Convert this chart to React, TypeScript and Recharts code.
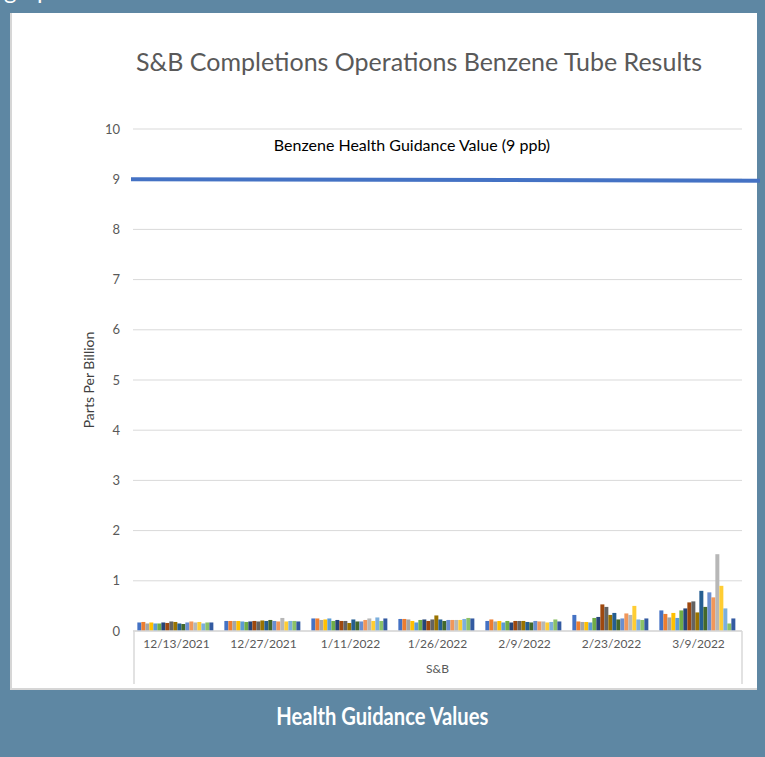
import React from "react";
import { BarChart, Bar, XAxis, YAxis, CartesianGrid, ReferenceLine } from "recharts";

// sampling dates (category axis) and the single outer group label
const dates = ["12/13/2021", "12/27/2021", "1/11/2022", "1/26/2022", "2/9/2022", "2/23/2022", "3/9/2022"];
const groupLabel = "S&B";

// 19 sampling tubes per date, in series order (ppb)
const dec13 = [0.17, 0.18, 0.15, 0.17, 0.15, 0.15, 0.17, 0.16, 0.19, 0.18, 0.15, 0.14, 0.17, 0.19, 0.17, 0.18, 0.15, 0.17, 0.17];
const dec27 = [0.2, 0.2, 0.2, 0.2, 0.19, 0.18, 0.19, 0.2, 0.19, 0.21, 0.2, 0.22, 0.2, 0.19, 0.26, 0.19, 0.2, 0.2, 0.19];
const jan11 = [0.25, 0.25, 0.22, 0.23, 0.25, 0.2, 0.22, 0.2, 0.2, 0.16, 0.23, 0.19, 0.19, 0.22, 0.25, 0.2, 0.27, 0.2, 0.25];
const jan26 = [0.24, 0.24, 0.23, 0.2, 0.17, 0.22, 0.23, 0.2, 0.23, 0.31, 0.23, 0.2, 0.22, 0.22, 0.22, 0.22, 0.24, 0.26, 0.25];
const feb9 = [0.2, 0.23, 0.19, 0.2, 0.17, 0.2, 0.17, 0.2, 0.2, 0.2, 0.18, 0.17, 0.2, 0.19, 0.19, 0.17, 0.18, 0.23, 0.19];
const feb23 = [0.32, 0.19, 0.18, 0.18, 0.17, 0.26, 0.28, 0.53, 0.48, 0.32, 0.36, 0.23, 0.25, 0.35, 0.32, 0.5, 0.23, 0.22, 0.25];
const mar9 = [0.41, 0.34, 0.27, 0.36, 0.26, 0.41, 0.45, 0.57, 0.59, 0.37, 0.8, 0.48, 0.77, 0.67, 1.53, 0.9, 0.45, 0.15, 0.25];
const groups = [dec13, dec27, jan11, jan26, feb9, feb23, mar9];

const guidanceValue = 9;
const guidanceText = "Benzene Health Guidance Value (9 ppb)";
const yTicks = [0, 1, 2, 3, 4, 5, 6, 7, 8, 9, 10];

// Excel's default colour cycle
const colors = [
  "#4472C4", "#ED7D31", "#A5A5A5", "#FFC000", "#5B9BD5", "#70AD47",
  "#264478", "#9E480E", "#636363", "#997300", "#255E91", "#43682B",
  "#698ED0", "#F1975A", "#B7B7B7", "#FFCD33", "#7CAFDD", "#8CC168",
  "#335AA1",
];

const data = dates.map((date, i) => {
  const row: Record<string, string | number> = { date };
  groups[i].forEach((v, j) => {
    row["s" + j] = v;
  });
  return row;
});

const FONT = "Lato, 'Open Sans', sans-serif";

function GuidanceLine(props: any) {
  const { x1, y1, x2, y2 } = props;
  return (
    <g>
      <line x1={x1 - 2} y1={y1} x2={x2 + 18} y2={y2 + 1.5} stroke="#4472C4" strokeWidth={4} />
      <text x={412} y={151} textAnchor="middle" fontSize={16} fill="#000" fontFamily={FONT}>
        {guidanceText}
      </text>
    </g>
  );
}

function OuterLabel(props: any) {
  const { x, y, width } = props.viewBox;
  return (
    <g>
      <line x1={x + 1} y1={y} x2={x + 1} y2={y + 53} stroke="#d9d9d9" strokeWidth={1.5} />
      <line x1={x + width} y1={y} x2={x + width} y2={y + 53} stroke="#d9d9d9" strokeWidth={1.5} />
      <text x={x + width / 2} y={y + 42} textAnchor="middle" fontSize={12} fill="#595959" fontFamily={FONT}>
        {groupLabel}
      </text>
    </g>
  );
}

function YLabel(props: any) {
  const { y, height } = props.viewBox;
  const cx = 88;
  const cy = y + height / 2;
  return (
    <text x={cx} y={cy} transform={`rotate(-90 ${cx} ${cy})`} textAnchor="middle" dominantBaseline="central"
      fontSize={14} fill="#404040" fontFamily={FONT}>
      Parts Per Billion
    </text>
  );
}

export default function App() {
  return (
    <div style={{ position: "absolute", left: 0, top: 0, width: 765, height: 757, overflow: "hidden", background: "#5E87A3", fontFamily: FONT }}>
      <div style={{ position: "absolute", left: 4, top: -24, color: "#fff", fontSize: 24, lineHeight: "28px" }}>graph</div>
      <div style={{ position: "absolute", left: 10, top: 13, width: 745, height: 675, background: "#fff", borderLeft: "2px solid #d6d6d6", borderBottom: "2px solid #d6d6d6" }} />
      <div style={{ position: "absolute", left: 0, top: 46, width: 838, textAlign: "center", fontSize: 25, color: "#595959", whiteSpace: "nowrap" }}>
        S&amp;B Completions Operations Benzene Tube Results
      </div>
      <div style={{ position: "absolute", left: 0, top: 701, width: 765, textAlign: "center", color: "#fff" }}>
        <span style={{ display: "inline-block", fontSize: 24, fontWeight: 700, transform: "scaleX(0.84)", whiteSpace: "nowrap" }}>
          Health Guidance Values
        </span>
      </div>
      <div style={{ position: "absolute", left: 0, top: 0 }}>
        <BarChart width={765} height={757} data={data} margin={{ top: 129, right: 23, bottom: 70, left: 78 }}
          barCategoryGap="5%" barGap={0}>
          <CartesianGrid vertical={false} stroke="#d9d9d9" />
          <XAxis dataKey="date" height={56} tickLine={false} axisLine={{ stroke: "#d9d9d9", strokeWidth: 1.5 }}
            tick={{ fontSize: 12, fill: "#595959", fontFamily: FONT }} interval={0} label={{ content: OuterLabel }} />
          <YAxis width={55} domain={[0, 10]} ticks={yTicks} axisLine={false} tickLine={false} tickMargin={7}
            tick={{ fontSize: 13, fill: "#595959", fontFamily: FONT }} label={{ content: YLabel }} />
          {colors.map((c, j) => (
            <Bar key={j} dataKey={"s" + j} fill={c} isAnimationActive={false} />
          ))}
          <ReferenceLine y={guidanceValue} ifOverflow="visible" shape={GuidanceLine} />
        </BarChart>
      </div>
    </div>
  );
}
